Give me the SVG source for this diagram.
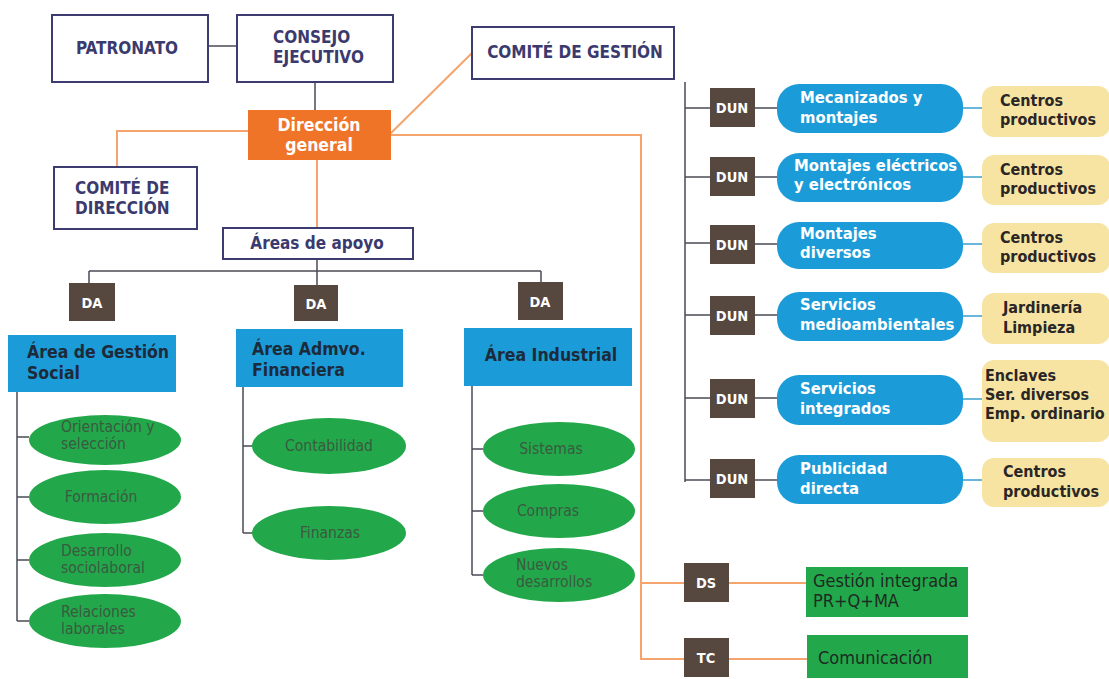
<svg xmlns="http://www.w3.org/2000/svg" width="1109" height="679" viewBox="0 0 1109 679">
<style>
text{font-family:"DejaVu Sans Condensed","DejaVu Sans","Liberation Sans",sans-serif;font-stretch:condensed;font-weight:bold}
.nb{fill:#fff;stroke:#3d3c70;stroke-width:2}
.nt{fill:#3b3a6e;font-size:17px}
.dk{fill:#56473f}
.wt{fill:#fff;font-size:14.5px}
.bl{fill:#1b9cd8}
.at{fill:#1d2a3a;font-size:17.5px}
.pt{fill:#fff;font-size:16.5px}
.yl{fill:#f8e4a2}
.yt{fill:#2a2626;font-size:16px}
.gr{fill:#22a84a}
.et{fill:#3a5a40;font-size:15.5px;font-weight:normal}
.gt{fill:#1e2a22;font-size:18px;font-weight:normal}
.ln{fill:none;stroke:#4b4b55;stroke-width:1.5}
.or{fill:none;stroke:#f4a46c;stroke-width:2}
.cy{fill:none;stroke:#3a9fcf;stroke-width:1.5}
</style>
<rect width="1109" height="679" fill="#fff"/>
<g id="connectors">
<path class="ln" d="M208 46H237M315 82V110M317 259V271M89 271H541M89 271V283M317 271V285M541 271V282"/>
<path class="or" d="M391 133L472 53M248 131H117V167M317 160V228M391 135H641V660M641 583H684M641 659H684M729 583H806M729 659H807"/>
<path class="ln" d="M685 82V482M685 108H710M685 177H710M685 243H710M685 315H710M685 398H710M685 480H710"/>
<path class="ln" d="M755 108H777M755 177H777M755 244H777M755 315H777M755 398H777M755 480H777"/>
<path class="cy" d="M963 108H982M963 177H982M963 244H982M963 316H982M963 399H982M963 480H982"/>
<path class="ln" d="M17 392V621M17 437H29M17 497H29M17 560H29M17 621H29"/>
<path class="ln" d="M243 387V533M243 446H253M243 533H253"/>
<path class="ln" d="M472 386V575M472 449H483M472 511H483M472 575H483"/>
</g>
<g id="patronato"><rect class="nb" x="52" y="15" width="156" height="67"/><text class="nt" x="127" y="54" text-anchor="middle">PATRONATO</text></g>
<g id="consejo"><rect class="nb" x="237" y="15" width="156" height="67"/><text class="nt" x="273" y="43">CONSEJO</text><text class="nt" x="273" y="63">EJECUTIVO</text></g>
<g id="comite-gestion"><rect class="nb" x="472" y="27" width="202" height="52"/><text class="nt" x="575" y="58" text-anchor="middle">COMITÉ DE GESTIÓN</text></g>
<g id="direccion-general"><rect x="248" y="110" width="143" height="50" fill="#f07427"/><text x="319" y="131" fill="#fff" font-size="17.5" text-anchor="middle">Dirección</text><text x="319" y="151" fill="#fff" font-size="17.5" text-anchor="middle">general</text></g>
<g id="comite-direccion"><rect class="nb" x="54" y="167" width="143" height="62"/><text class="nt" x="75" y="194">COMITÉ DE</text><text class="nt" x="75" y="214">DIRECCIÓN</text></g>
<g id="areas-apoyo"><rect class="nb" x="223" y="228" width="190" height="31"/><text class="nt" x="317" y="249" text-anchor="middle">Áreas de apoyo</text></g>
<g id="da1"><rect class="dk" x="69" y="283" width="46" height="38"/><text class="wt" x="92" y="308" text-anchor="middle">DA</text></g>
<g id="da2"><rect class="dk" x="294" y="285" width="44" height="36"/><text class="wt" x="316" y="309" text-anchor="middle">DA</text></g>
<g id="da3"><rect class="dk" x="518" y="282" width="45" height="38"/><text class="wt" x="540" y="307" text-anchor="middle">DA</text></g>
<g id="area-social"><rect class="bl" x="8" y="335" width="168" height="57"/><text class="at" x="27" y="358">Área de Gestión</text><text class="at" x="27" y="379">Social</text></g>
<g id="area-admvo"><rect class="bl" x="236" y="329" width="167" height="58"/><text class="at" x="252" y="355">Área Admvo.</text><text class="at" x="252" y="376">Financiera</text></g>
<g id="area-industrial"><rect class="bl" x="464" y="328" width="168" height="58"/><text class="at" x="551" y="361" text-anchor="middle">Área Industrial</text></g>
<g id="orientacion"><ellipse class="gr" cx="105" cy="440" rx="76" ry="25"/><text class="et" x="61" y="432">Orientación y</text><text class="et" x="61" y="449">selección</text></g>
<g id="formacion"><ellipse class="gr" cx="105" cy="497" rx="76" ry="27"/><text class="et" x="101" y="502" text-anchor="middle">Formación</text></g>
<g id="desarrollo"><ellipse class="gr" cx="105" cy="560" rx="76" ry="27"/><text class="et" x="61" y="556">Desarrollo</text><text class="et" x="61" y="573">sociolaboral</text></g>
<g id="relaciones"><ellipse class="gr" cx="105" cy="621" rx="76" ry="27"/><text class="et" x="61" y="617">Relaciones</text><text class="et" x="61" y="634">laborales</text></g>
<g id="contabilidad"><ellipse class="gr" cx="329" cy="446" rx="77" ry="28"/><text class="et" x="329" y="451" text-anchor="middle">Contabilidad</text></g>
<g id="finanzas"><ellipse class="gr" cx="329" cy="533" rx="77" ry="27"/><text class="et" x="330" y="538" text-anchor="middle">Finanzas</text></g>
<g id="sistemas"><ellipse class="gr" cx="559" cy="449" rx="76" ry="27"/><text class="et" x="551" y="454" text-anchor="middle">Sistemas</text></g>
<g id="compras"><ellipse class="gr" cx="559" cy="511" rx="76" ry="27"/><text class="et" x="548" y="516" text-anchor="middle">Compras</text></g>
<g id="nuevos"><ellipse class="gr" cx="559" cy="575" rx="76" ry="27"/><text class="et" x="516" y="570">Nuevos</text><text class="et" x="516" y="587">desarrollos</text></g>
<g id="dun1"><rect class="dk" x="710" y="88" width="45" height="39"/><text class="wt" x="732" y="113" text-anchor="middle">DUN</text><rect class="bl" x="777" y="84" width="186" height="49" rx="22"/><text class="pt" x="800" y="103">Mecanizados y</text><text class="pt" x="800" y="123">montajes</text><rect class="yl" x="982" y="86" width="128" height="51" rx="12"/><text class="yt" x="1000" y="106">Centros</text><text class="yt" x="1000" y="125">productivos</text></g>
<g id="dun2"><rect class="dk" x="710" y="157" width="45" height="39"/><text class="wt" x="732" y="182" text-anchor="middle">DUN</text><rect class="bl" x="777" y="153" width="186" height="49" rx="22"/><text class="pt" x="794" y="171">Montajes eléctricos</text><text class="pt" x="794" y="190">y electrónicos</text><rect class="yl" x="982" y="155" width="128" height="50" rx="12"/><text class="yt" x="1000" y="175">Centros</text><text class="yt" x="1000" y="194">productivos</text></g>
<g id="dun3"><rect class="dk" x="710" y="225" width="45" height="39"/><text class="wt" x="732" y="250" text-anchor="middle">DUN</text><rect class="bl" x="777" y="222" width="186" height="47" rx="22"/><text class="pt" x="800" y="239">Montajes</text><text class="pt" x="800" y="258">diversos</text><rect class="yl" x="982" y="223" width="128" height="50" rx="12"/><text class="yt" x="1000" y="243">Centros</text><text class="yt" x="1000" y="262">productivos</text></g>
<g id="dun4"><rect class="dk" x="710" y="296" width="45" height="39"/><text class="wt" x="732" y="321" text-anchor="middle">DUN</text><rect class="bl" x="777" y="292" width="186" height="49" rx="22"/><text class="pt" x="800" y="310">Servicios</text><text class="pt" x="800" y="330">medioambientales</text><rect class="yl" x="982" y="293" width="128" height="51" rx="12"/><text class="yt" x="1003" y="313">Jardinería</text><text class="yt" x="1003" y="333">Limpieza</text></g>
<g id="dun5"><rect class="dk" x="710" y="379" width="45" height="39"/><text class="wt" x="732" y="404" text-anchor="middle">DUN</text><rect class="bl" x="777" y="375" width="186" height="50" rx="22"/><text class="pt" x="800" y="394">Servicios</text><text class="pt" x="800" y="414">integrados</text><rect class="yl" x="982" y="360" width="128" height="82" rx="12"/><text class="yt" x="985" y="381">Enclaves</text><text class="yt" x="985" y="400">Ser. diversos</text><text class="yt" x="985" y="419">Emp. ordinario</text></g>
<g id="dun6"><rect class="dk" x="710" y="459" width="45" height="39"/><text class="wt" x="732" y="484" text-anchor="middle">DUN</text><rect class="bl" x="777" y="455" width="186" height="49" rx="22"/><text class="pt" x="800" y="474">Publicidad</text><text class="pt" x="800" y="494">directa</text><rect class="yl" x="982" y="458" width="128" height="49" rx="12"/><text class="yt" x="1003" y="477">Centros</text><text class="yt" x="1003" y="497">productivos</text></g>
<g id="ds"><rect class="dk" x="684" y="563" width="45" height="39"/><text class="wt" x="706" y="588" text-anchor="middle">DS</text></g>
<g id="gestion-integrada"><rect class="gr" x="806" y="567" width="162" height="50"/><text class="gt" x="813" y="587">Gestión integrada</text><text class="gt" x="813" y="607">PR+Q+MA</text></g>
<g id="tc"><rect class="dk" x="684" y="638" width="45" height="39"/><text class="wt" x="706" y="663" text-anchor="middle">TC</text></g>
<g id="comunicacion"><rect class="gr" x="807" y="635" width="161" height="43"/><text class="gt" x="818" y="664" font-size="19">Comunicación</text></g>
</svg>
